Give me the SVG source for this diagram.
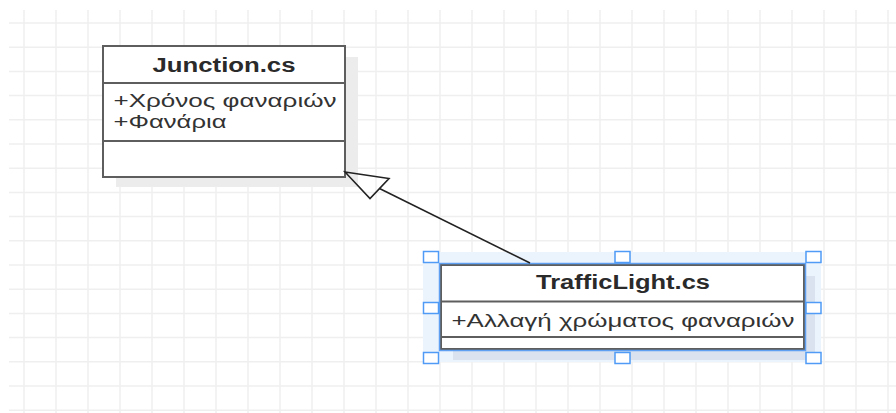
<svg xmlns="http://www.w3.org/2000/svg" width="896" height="413" viewBox="0 0 896 413">
<style>
.grid line{stroke:#efefef;stroke-width:1.5}
.box{fill:#ffffff;stroke:#5e5e5e;stroke-width:2}
.div{stroke:#5e5e5e;stroke-width:2}
.title{font-family:"Liberation Sans",Arial,sans-serif;font-weight:bold;font-size:20px;fill:#2a2a2a;text-anchor:middle}
.attr{font-family:"Liberation Sans",Arial,sans-serif;font-size:18.5px;fill:#333333}
.shadow{fill:#ececec}
.handle{fill:#ffffff;stroke:#4f9bf5;stroke-width:1.5}
.edge{stroke:#222222;stroke-width:1.6;fill:none}
</style>
<rect width="896" height="413" fill="#ffffff"/>
<g class="grid" id="grid">
<line x1="24" y1="10" x2="24" y2="413"/><line x1="56" y1="10" x2="56" y2="413"/><line x1="88" y1="10" x2="88" y2="413"/><line x1="120" y1="10" x2="120" y2="413"/><line x1="152" y1="10" x2="152" y2="413"/><line x1="184" y1="10" x2="184" y2="413"/><line x1="216" y1="10" x2="216" y2="413"/><line x1="248" y1="10" x2="248" y2="413"/><line x1="280" y1="10" x2="280" y2="413"/><line x1="312" y1="10" x2="312" y2="413"/><line x1="344" y1="10" x2="344" y2="413"/><line x1="376" y1="10" x2="376" y2="413"/><line x1="408" y1="10" x2="408" y2="413"/><line x1="440" y1="10" x2="440" y2="413"/><line x1="472" y1="10" x2="472" y2="413"/><line x1="504" y1="10" x2="504" y2="413"/><line x1="536" y1="10" x2="536" y2="413"/><line x1="568" y1="10" x2="568" y2="413"/><line x1="600" y1="10" x2="600" y2="413"/><line x1="632" y1="10" x2="632" y2="413"/><line x1="664" y1="10" x2="664" y2="413"/><line x1="696" y1="10" x2="696" y2="413"/><line x1="728" y1="10" x2="728" y2="413"/><line x1="760" y1="10" x2="760" y2="413"/><line x1="792" y1="10" x2="792" y2="413"/><line x1="824" y1="10" x2="824" y2="413"/><line x1="856" y1="10" x2="856" y2="413"/><line x1="888" y1="10" x2="888" y2="413"/>
<line x1="9" y1="23" x2="896" y2="23"/><line x1="9" y1="47.2" x2="896" y2="47.2"/><line x1="9" y1="71.4" x2="896" y2="71.4"/><line x1="9" y1="95.6" x2="896" y2="95.6"/><line x1="9" y1="119.8" x2="896" y2="119.8"/><line x1="9" y1="144" x2="896" y2="144"/><line x1="9" y1="168.2" x2="896" y2="168.2"/><line x1="9" y1="192.4" x2="896" y2="192.4"/><line x1="9" y1="216.6" x2="896" y2="216.6"/><line x1="9" y1="240.8" x2="896" y2="240.8"/><line x1="9" y1="265" x2="896" y2="265"/><line x1="9" y1="289.2" x2="896" y2="289.2"/><line x1="9" y1="313.4" x2="896" y2="313.4"/><line x1="9" y1="337.6" x2="896" y2="337.6"/><line x1="9" y1="361.8" x2="896" y2="361.8"/><line x1="9" y1="386" x2="896" y2="386"/><line x1="9" y1="410.2" x2="896" y2="410.2"/>
</g>
<g id="junction">
<rect class="shadow" x="116" y="57" width="242" height="130"/>
<rect class="box" x="103" y="46" width="242" height="131"/>
<line class="div" x1="103" y1="83" x2="345" y2="83"/>
<line class="div" x1="103" y1="141" x2="345" y2="141"/>
<text class="title" x="224" y="72" textLength="143" lengthAdjust="spacingAndGlyphs">Junction.cs</text>
<text class="attr" x="113.5" y="107" textLength="223" lengthAdjust="spacingAndGlyphs">+Χρόνος φαναριών</text>
<text class="attr" x="113.5" y="128" textLength="113" lengthAdjust="spacingAndGlyphs">+Φανάρια</text>
</g>
<g id="trafficlight">
<rect x="423" y="252" width="398" height="110" fill="#ebf3fd"/>
<rect x="453" y="276" width="362" height="84" fill="#d9e2ee"/>
<rect class="box" x="441" y="265" width="363" height="84"/>
<line class="div" x1="441" y1="301.5" x2="804" y2="301.5"/>
<line class="div" x1="441" y1="337" x2="804" y2="337"/>
<rect x="439.5" y="263.5" width="366" height="87" fill="none" stroke="#5fa0f2" stroke-width="1.5"/>
<text class="title" x="623" y="289" textLength="174" lengthAdjust="spacingAndGlyphs">TrafficLight.cs</text>
<text class="attr" x="451.5" y="326.5" textLength="343" lengthAdjust="spacingAndGlyphs">+Αλλαγή χρώματος φαναριών</text>
<rect class="handle" x="423.5" y="251.5" width="15" height="11"/>
<rect class="handle" x="615" y="251.5" width="15" height="11"/>
<rect class="handle" x="806" y="251.5" width="15" height="11"/>
<rect class="handle" x="423.5" y="302.5" width="15" height="11"/>
<rect class="handle" x="806" y="302.5" width="15" height="11"/>
<rect class="handle" x="423.5" y="352.5" width="15" height="11"/>
<rect class="handle" x="615" y="352.5" width="15" height="11"/>
<rect class="handle" x="806" y="352.5" width="15" height="11"/>
</g>
<g id="connectors">
<line class="edge" x1="530" y1="263" x2="379.5" y2="188.5"/>
<polygon class="edge" points="345,172 389,178.5 370,198.5" fill="#ffffff"/>
</g>
</svg>
